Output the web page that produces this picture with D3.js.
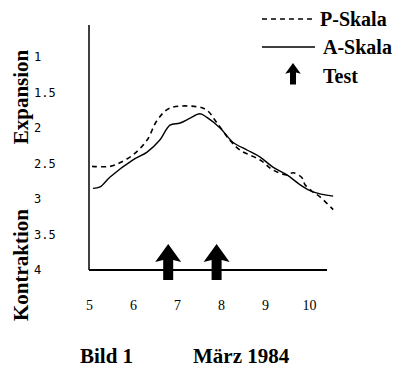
<!DOCTYPE html>
<html lang="de">
<head>
<meta charset="utf-8">
<title>Bild 1</title>
<script src="https://d3js.org/d3.v7.min.js"></script>
<style>
body { margin: 0; background: #fff; }
</style>
</head>
<body>
<script>
// Tage im März
var days = [5, 6, 7, 8, 9, 10];
var levels = [1, 1.5, 2, 2.5, 3, 3.5, 4];
var testDays = [6.8, 7.9];

var pDays = [5.07, 5.48, 5.70, 6.0, 6.32, 6.55, 6.84, 7.45, 7.68, 7.91, 8.2, 8.43, 8.89, 9.18, 9.5, 9.64, 9.84, 9.91, 10.09, 10.25, 10.55];
var pVals = [2.54, 2.54, 2.49, 2.38, 2.17, 1.89, 1.72, 1.70, 1.75, 1.93, 2.17, 2.31, 2.45, 2.59, 2.66, 2.63, 2.70, 2.80, 2.90, 2.97, 3.15];

var aDays = [5.09, 5.25, 5.48, 6.0, 6.32, 6.61, 6.84, 7.07, 7.3, 7.52, 7.68, 7.98, 8.27, 8.59, 8.89, 9.18, 9.5, 9.8, 10.09, 10.55];
var aVals = [2.85, 2.83, 2.69, 2.45, 2.34, 2.17, 1.96, 1.93, 1.86, 1.80, 1.85, 2.0, 2.20, 2.31, 2.41, 2.55, 2.66, 2.80, 2.90, 2.96];

var serif = "'Liberation Serif', 'Times New Roman', 'DejaVu Serif', serif";

var svg = d3.select("body").append("svg")
  .attr("width", 400)
  .attr("height", 386);

var x = d3.scaleLinear().domain([5, 10]).range([89, 309]);
var y = d3.scaleLinear().domain([1, 4]).range([57, 270]);

// Achsen
svg.append("line")
  .attr("x1", x(5)).attr("x2", x(5))
  .attr("y1", y(0.55)).attr("y2", y(4))
  .attr("stroke", "#000").attr("stroke-width", 1.5);
svg.append("line")
  .attr("x1", x(5)).attr("x2", x(10.41))
  .attr("y1", y(4)).attr("y2", y(4))
  .attr("stroke", "#000").attr("stroke-width", 2);

var yAxis = svg.append("g")
  .attr("transform", "translate(34,0)")
  .call(d3.axisLeft(y).tickValues(levels).tickSize(0).tickPadding(0)
    .tickFormat(function(d) { return d; }));
yAxis.select(".domain").remove();
yAxis.selectAll("text")
  .attr("text-anchor", "start")
  .style("font-family", "'DejaVu Sans Mono', 'Liberation Mono', monospace")
  .style("font-size", "12px");

var xAxis = svg.append("g")
  .attr("transform", "translate(0,300)")
  .call(d3.axisBottom(x).tickValues(days).tickSize(0).tickPadding(0)
    .tickFormat(d3.format("d")));
xAxis.select(".domain").remove();
xAxis.selectAll("text").style("font-family", serif).style("font-size", "14px");

// Kurven
var line = d3.line()
  .x(function(d) { return x(d[0]); })
  .y(function(d) { return y(d[1]); })
  .curve(d3.curveCatmullRom);

svg.append("path")
  .attr("d", line(d3.zip(pDays, pVals)))
  .attr("fill", "none").attr("stroke", "#000")
  .attr("stroke-width", 1.6).attr("stroke-dasharray", "5,4");

svg.append("path")
  .attr("d", line(d3.zip(aDays, aVals)))
  .attr("fill", "none").attr("stroke", "#000")
  .attr("stroke-width", 1.4);

// Pfeile
function arrow(cx, tip, s) {
  return "M" + cx + "," + tip +
    "L" + (cx + 13 * s) + "," + (tip + 18 * s) +
    "L" + (cx + 5 * s) + "," + (tip + 16 * s) +
    "L" + (cx + 5 * s) + "," + (tip + 36 * s) +
    "L" + (cx - 5 * s) + "," + (tip + 36 * s) +
    "L" + (cx - 5 * s) + "," + (tip + 16 * s) +
    "L" + (cx - 13 * s) + "," + (tip + 18 * s) + "Z";
}
svg.selectAll(".arrow")
  .data(testDays)
  .enter().append("path")
  .attr("class", "arrow")
  .attr("d", function(d) { return arrow(x(d), 244, 1); })
  .attr("fill", "#000");

// Legende
svg.append("line").attr("x1", 262).attr("x2", 315).attr("y1", 19).attr("y2", 19)
  .attr("stroke", "#000").attr("stroke-width", 1.6).attr("stroke-dasharray", "5,4");
svg.append("line").attr("x1", 262).attr("x2", 315).attr("y1", 47).attr("y2", 47)
  .attr("stroke", "#000").attr("stroke-width", 1.4);
svg.append("path").attr("d", arrow(293, 63, 0.6)).attr("fill", "#000");

function label(tx, ty, size, txt) {
  return svg.append("text")
    .attr("x", tx).attr("y", ty)
    .style("font-family", serif).style("font-weight", "bold")
    .style("font-size", size + "px").attr("fill", "#000")
    .text(txt);
}
label(320, 26, 20, "P-Skala");
label(323, 54, 20, "A-Skala");
label(323, 83, 20, "Test");

label(0, 0, 21, "Expansion")
  .attr("transform", "translate(28,97) rotate(-90)").attr("text-anchor", "middle");
label(0, 0, 21, "Kontraktion")
  .attr("transform", "translate(28,265) rotate(-90)").attr("text-anchor", "middle");

label(80, 363, 21, "Bild 1");
label(193, 363, 21, "März 1984");
</script>
</body>
</html>
